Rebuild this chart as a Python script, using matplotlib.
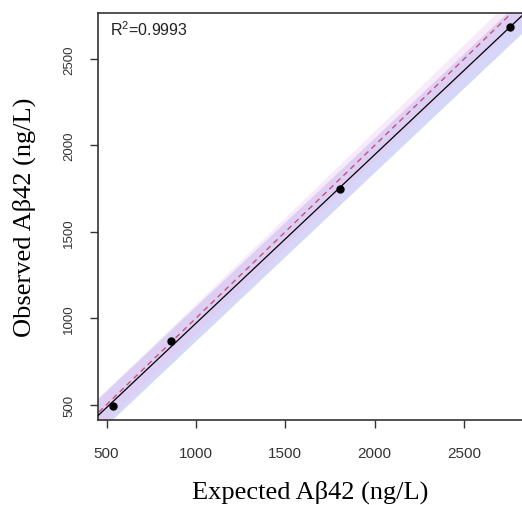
import numpy as np
import matplotlib
matplotlib.use("Agg")
import matplotlib.pyplot as plt

plt.rcParams["mathtext.fontset"] = "custom"
plt.rcParams["mathtext.rm"] = "Liberation Sans"
plt.rcParams["mathtext.it"] = "Liberation Sans"

# expected vs observed Abeta42 (ng/L)
expected = [536, 860, 1806, 2758]
observed = [492, 869, 1748, 2686]
r2_text = "R$^2$=0.9993"
xticks = [500, 1000, 1500, 2000, 2500]
yticks = [500, 1000, 1500, 2000, 2500]
fit_band = 100    # ng/L half width around regression line
ident_band = 85   # ng/L half width around identity line

fig = plt.figure(figsize=(5.22, 5.06), dpi=100)
ax = fig.add_axes([0.187, 0.168, 0.813, 0.804])

x = np.array(expected, dtype=float)
y = np.array(observed, dtype=float)
slope, icpt = np.polyfit(x, y, 1)
xs = np.linspace(300, 3000, 50)
fit = slope * xs + icpt

# bands: blue around fit, pink around identity
ax.fill_between(xs, fit - fit_band, fit + fit_band, color="#bcbcf4", alpha=0.6, lw=0, zorder=1)
ax.fill_between(xs, xs - ident_band, xs + ident_band, color="#ecc4ec", alpha=0.35, lw=0, zorder=1)

ax.plot(xs, xs, ls=(0, (4, 3)), color="#c8507a", lw=1.0, zorder=2)
ax.plot(xs, fit, color="black", lw=0.9, zorder=3)
ax.plot(x, y, "o", color="black", ms=5, zorder=4)

ax.set_xlim(450, 2825)
ax.set_ylim(411, 2766)
ax.set_xticks(xticks)
ax.set_yticks(yticks)
ax.tick_params(direction="out", length=6, width=1, colors="#333333")
ax.tick_params(axis="x", labelsize=11, pad=13)
ax.tick_params(axis="y", labelsize=9.5, pad=10)
for lab in ax.get_xticklabels() + ax.get_yticklabels():
    lab.set_fontfamily("Liberation Sans")
    lab.set_color("#333333")
for lab in ax.get_yticklabels():
    lab.set_rotation(90)
    lab.set_va("center")
for s in ["left", "bottom", "top"]:
    ax.spines[s].set_color("#333333")
    ax.spines[s].set_linewidth(1.2)
ax.spines["right"].set_visible(False)

ax.text(0.03, 0.985, r2_text, transform=ax.transAxes, ha="left", va="top",
        fontsize=11.5, family="Liberation Sans", color="#222222")

ax.set_xlabel("Expected A\u03b242 (ng/L)", family="Liberation Serif", fontsize=19, labelpad=14)
ax.set_ylabel("Observed A\u03b242 (ng/L)", family="Liberation Serif", fontsize=19, labelpad=20)

fig.savefig("out.png", dpi=100)
